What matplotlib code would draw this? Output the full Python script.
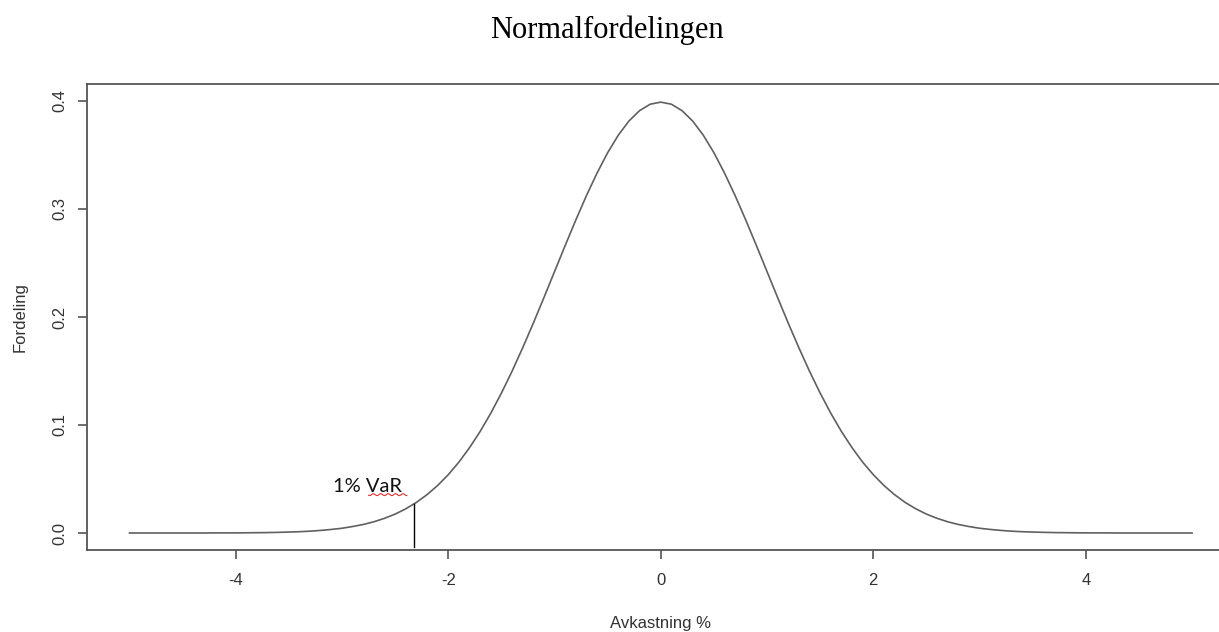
import numpy as np
import matplotlib
matplotlib.use("Agg")
import matplotlib.pyplot as plt

# density, x = -5 .. 5 in steps of 0.1
x_vals = [round(-5.0 + 0.1 * i, 1) for i in range(101)]
right_half = [0.3989, 0.3970, 0.3910, 0.3814, 0.3683, 0.3521, 0.3332, 0.3123, 0.2897, 0.2661,
              0.2420, 0.2179, 0.1942, 0.1714, 0.1497, 0.1295, 0.1109, 0.0940, 0.0790, 0.0656,
              0.0540, 0.0440, 0.0355, 0.0283, 0.0224, 0.0175, 0.0136, 0.0104, 0.0079, 0.0060,
              0.0044, 0.0033, 0.0024, 0.0017, 0.0012, 0.0009, 0.0006, 0.0004, 0.0003, 0.0002,
              0.0001, 0.0001, 0.0001, 0.0000, 0.0000, 0.0000, 0.0000, 0.0000, 0.0000, 0.0000,
              0.0000]
# the curve is symmetric around 0
density = right_half[:0:-1] + right_half

var_x = -2.32
var_top = 0.027
var_bottom = -0.013
var_label = "1% VaR"

x_ticks = [-4, -2, 0, 2, 4]
y_ticks = [0.0, 0.1, 0.2, 0.3, 0.4]
y_ticklabels = ["0.0", "0.1", "0.2", "0.3", "0.4"]

plt.rcParams['font.family'] = ['Liberation Sans', 'DejaVu Sans']
grey = '#555555'

fig = plt.figure(figsize=(12.19, 6.32), dpi=100)
ax = fig.add_axes([87 / 1219, 0.1293, 0.9414, 0.7383])

ax.plot(x_vals, density, color='#606060', lw=1.2)
ax.plot([var_x, var_x], [var_bottom, var_top], color='black', lw=1.0, clip_on=False)

# label with the spell-check squiggle under "VaR"
ax.text(-2.76, 0.038, var_label, family=['Lato', 'DejaVu Sans'], fontsize=14.5,
        ha='center', va='baseline', color='#111111')
sq_x = np.linspace(-2.75, -2.39, 40)
ax.plot(sq_x, 0.0355 + 0.0009 * np.sin(sq_x * 90), color='#e03030', lw=0.8)

ax.set_xlim(-5.4, 5.4)
ax.set_ylim(-0.016, 0.416)
ax.set_xticks(x_ticks)
ax.set_xticklabels([str(t) for t in x_ticks])
ax.set_yticks(y_ticks)
ax.set_yticklabels(y_ticklabels, rotation=90, va='center')

for s in ['left', 'bottom', 'top', 'right']:
    ax.spines[s].set_color(grey)
    ax.spines[s].set_linewidth(1.3)

ax.tick_params(axis='both', direction='out', length=6.5, width=1.2, color=grey,
               labelsize=12, labelcolor='#333333')
ax.tick_params(axis='x', pad=10)
ax.tick_params(axis='y', pad=7.5)

ax.set_xlabel("Avkastning %", fontsize=12, color='#333333', labelpad=20)
ax.set_ylabel("Fordeling", fontsize=12, color='#333333', labelpad=18)

fig.text(607 / 1219, 1 - 30 / 632, "Normalfordelingen", family=['Liberation Serif'],
         fontsize=22, ha='center', va='center')

fig.savefig("out.png", dpi=100)
